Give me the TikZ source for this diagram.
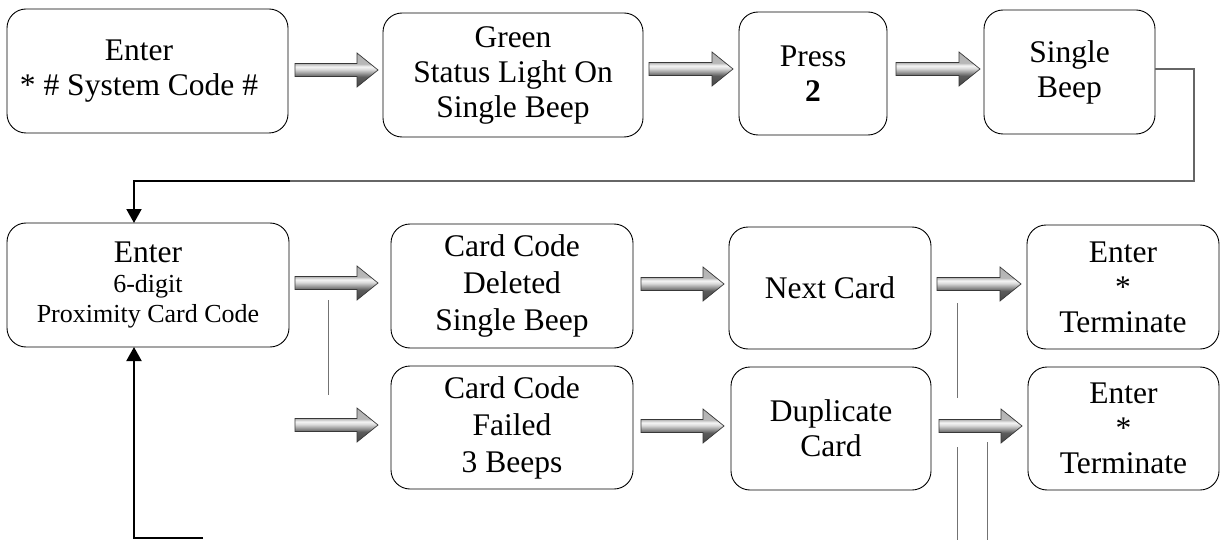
\documentclass[tikz,border=0pt]{standalone}
\usepackage{fontspec}
\setmainfont{Liberation Serif}
\usetikzlibrary{calc,arrows.meta}

\pgfdeclareverticalshading{barshade}{100bp}{color(0bp)=(black!72); color(25bp)=(black!72); color(40bp)=(black!64); color(51bp)=(black!14); color(55bp)=(black!4); color(59bp)=(black!28); color(75bp)=(black!30); color(100bp)=(black!30)}

\newcommand\blockarrow[5]{%
  \coordinate (ba-s) at ($(#1.east |- 0,#3)+(#4,0)$);
  \coordinate (ba-e) at ($(#2.west |- 0,#3)+(-#5,0)$);
  \shade[barrowst] ($(ba-s)+(0,-6.5)$) -- ($(ba-e)+(-21,-6.5)$) -- ($(ba-e)+(-21,-17)$) -- (ba-e) -- ($(ba-e)+(-21,17)$) -- ($(ba-e)+(-21,6.5)$) -- ($(ba-s)+(0,6.5)$) -- cycle;
}
\newcommand\smallf{\fontsize{26}{30}\selectfont}

\begin{document}
\begin{tikzpicture}[x=1pt,y=-1pt,
  box/.style={draw=black, line width=0.9pt, rounded corners=19pt, inner sep=0pt, outer sep=0pt, align=center, font=\fontsize{31.5}{35}\selectfont},
  barrowst/.style={draw=black!78, line width=0.7pt, shading=barshade},
  grayline/.style={draw=black!60, line width=1.3pt},
  thickline/.style={draw=black, line width=2pt},
  thinline/.style={draw=black!55, line width=0.9pt},
  tip/.style={-{Triangle[width=15pt,length=14pt]}}
]
\fill[white] (0,0) rectangle (1220,540);
\useasboundingbox (0,0) rectangle (1220,540);

% top row
\node[box, minimum width=281, minimum height=124] (b1) at (147.5,71) {Enter\hspace*{17pt}\\* \# System Code \#\hspace*{17pt}};
\node[box, minimum width=260, minimum height=124] (b2) at (513,75) {Green\\Status Light On\\Single Beep};
\node[box, minimum width=148, minimum height=123] (b3) at (813,73.5) {Press\\\textbf{2}};
\node[box, minimum width=171, minimum height=124] (b4) at (1069.5,72) {Single\\Beep};

% second and third rows
\node[box, minimum width=282, minimum height=124, font=\fontsize{31.5}{30}\selectfont] (b5) at (148,285) {Enter\\\smallf 6-digit\\\smallf Proximity Card Code};
\node[box, minimum width=242, minimum height=124, font=\fontsize{31.5}{37}\selectfont] (b6) at (512,286) {Card Code\\Deleted\\Single Beep};
\node[box, minimum width=242, minimum height=123, font=\fontsize{31.5}{37}\selectfont] (b7) at (512,427.5) {Card Code\\Failed\\3 Beeps};
\node[box, minimum width=202, minimum height=122] (b8) at (830,288) {Next Card};
\node[box, minimum width=200, minimum height=123] (b9) at (831,428.5) {Duplicate\\Card};
\node[box, minimum width=192, minimum height=124] (b10) at (1123,287) {Enter\\*\\Terminate};
\node[box, minimum width=191, minimum height=123] (b11) at (1123.5,428.5) {Enter\\*\\Terminate};

% block arrows
\blockarrow{b1}{b2}{70}{7}{5}
\blockarrow{b2}{b3}{69}{6}{6}
\blockarrow{b3}{b4}{69}{9}{4}
\blockarrow{b5}{b6}{283}{6}{13}
\blockarrow{b5}{b7}{425}{6}{13}
\blockarrow{b6}{b8}{284}{8}{5}
\blockarrow{b7}{b9}{426}{8}{7}
\blockarrow{b8}{b10}{284}{6}{6}
\blockarrow{b9}{b11}{426}{8}{6}

% return connector from Single Beep to Enter 6-digit
\coordinate (r1) at (1194,181);
\coordinate (r2) at (290,181);
\coordinate (r3) at (134,181);
\draw[grayline] (b4.east |- 0,69) -| (r1) -- (r2);
\draw[thickline, tip, line cap=butt] (r2) -- (r3) -- (r3 |- b5.north);

% bottom return arrow into Enter 6-digit
\coordinate (u1) at (203,538);
\coordinate (u2) at (134,538);
\draw[thickline, tip] (u1) -- (u2) -- (u2 |- b5.south);

% thin vertical connector fragments
\coordinate (v1a) at (328,300); \coordinate (v1b) at (328,395);
\coordinate (v2a) at (957,303); \coordinate (v2b) at (957,398);
\coordinate (v3a) at (957,447); \coordinate (v3b) at (957,540);
\coordinate (v4a) at (987,442); \coordinate (v4b) at (987,540);
\draw[thinline] (v1a) -- (v1b);
\draw[thinline] (v2a) -- (v2b);
\draw[thinline] (v3a) -- (v3b);
\draw[thinline] (v4a) -- (v4b);
\end{tikzpicture}
\end{document}
